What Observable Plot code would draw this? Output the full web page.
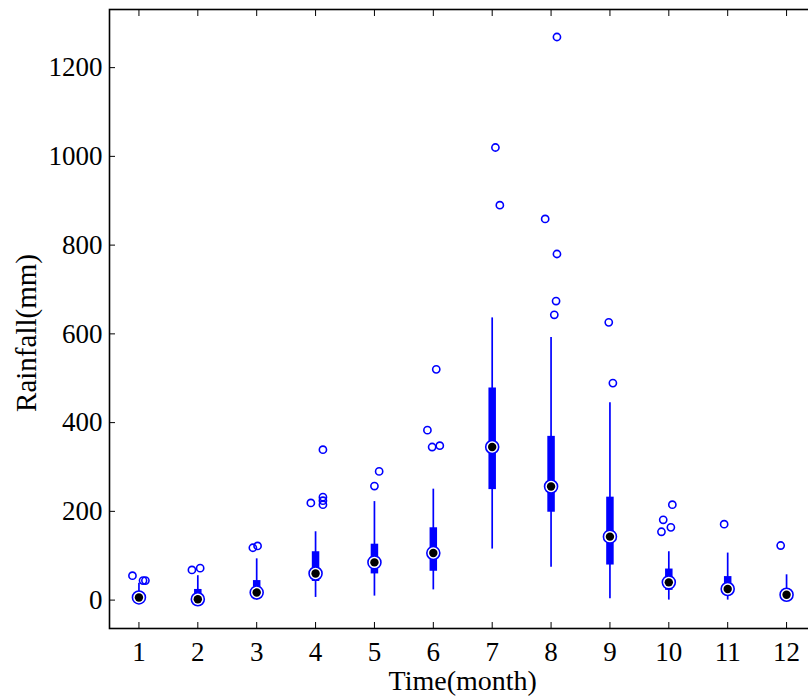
<!DOCTYPE html>
<html>
<head>
<meta charset="utf-8">
<script src="https://cdn.jsdelivr.net/npm/d3@7"></script>
<script src="https://cdn.jsdelivr.net/npm/@observablehq/plot@0.6"></script>
<style>
html, body { margin: 0; padding: 0; overflow: hidden; background: #fff; }
#chart svg { display: block; max-width: none !important; width: 816px !important; height: 699px !important; }
</style>
</head>
<body>
<div id="chart"></div>
<script>
// ---- data ----
const months       = [1, 2, 3, 4, 5, 6, 7, 8, 9, 10, 11, 12];
const whiskerLow   = [0, 0, 0, 6, 9, 23, 115, 74, 3, 0, 0, 0];
const quartile1    = [2, 0, 8, 42, 59, 65, 249, 198, 79, 22, 12, 5];
const medianValue  = [6, 2, 17, 60, 85, 106, 345, 256, 143, 40, 25, 12];
const quartile3    = [12, 24, 44, 109, 126, 163, 478, 369, 232, 70, 53, 20];
const whiskerHigh  = [38, 55, 93, 154, 222, 250, 636, 592, 445, 109, 106, 57];

const outlierMonth  = [1, 1, 1, 2, 2, 3, 3, 4, 4, 4, 4, 4, 5, 5, 6, 6, 6, 6, 7, 7, 8, 8, 8, 8, 8, 9, 9, 10, 10, 10, 10, 11, 12];
const outlierValue  = [55, 44, 44, 68, 72, 118, 122, 219, 339, 232, 224, 215, 257, 290, 520, 383, 345, 348, 1020, 890, 1269, 859, 780, 674, 643, 626, 489, 215, 181, 164, 154, 171, 123];
const outlierJitter = [-0.11, 0.07, 0.11, -0.10, 0.04, -0.065, 0.015, -0.08, 0.125, 0.125, 0.125, 0.125, 0.0, 0.08, 0.05, -0.10, -0.02, 0.11, 0.055, 0.13, 0.10, -0.10, 0.10, 0.085, 0.055, -0.02, 0.05, 0.06, -0.095, 0.035, -0.125, -0.06, -0.10];

const yTicks = [0, 200, 400, 600, 800, 1000, 1200];
const xTitle = "Time(month)";
const yTitle = "Rainfall(mm)";

// ---- tables built from the arrays ----
const boxes = months.map((m, i) => ({
  month: m, lo: whiskerLow[i], q1: quartile1[i], med: medianValue[i], q3: quartile3[i], hi: whiskerHigh[i]
}));
const outliers = outlierMonth.map((m, i) => ({ month: m, value: outlierValue[i], jitter: outlierJitter[i] }));

const BLUE = "#0000ff";
const FONT = "'Liberation Serif', 'Times New Roman', serif";

const chart = Plot.plot({
  width: 816,
  height: 699,
  marginLeft: 109,
  marginRight: 0.5,
  marginTop: 9,
  marginBottom: 71,
  style: { fontFamily: FONT, fontSize: "27px", color: "#000", background: "#fff" },
  x: { domain: [0.5, 12.5] },
  y: { domain: [-64, 1331] },
  marks: [
    // whiskers
    Plot.ruleX(boxes, { x: "month", y1: "lo", y2: "hi", stroke: BLUE, strokeWidth: 1.7 }),
    // boxes (compact style)
    Plot.ruleX(boxes, { x: "month", y1: "q1", y2: "q3", stroke: BLUE, strokeWidth: 7.5 }),
    // median ring + dot
    Plot.dot(boxes, { x: "month", y: "med", r: 6.5, fill: "white", stroke: BLUE, strokeWidth: 1.6 }),
    Plot.dot(boxes, { x: "month", y: "med", r: 4.2, fill: "black", stroke: "none" }),
    // outliers
    Plot.dot(outliers, { x: d => d.month + d.jitter, y: "value", r: 3.6, fill: "none", stroke: BLUE, strokeWidth: 1.6 }),
    // frame
    Plot.frame({ stroke: "black", strokeWidth: 1.6 }),
    // inward ticks
    Plot.axisX(months, { anchor: "bottom", tickSize: 6, dy: -6, tickFormat: () => "", label: null, stroke: "black" }),
    Plot.axisX(months, { anchor: "top", tickSize: 6, dy: 6, tickFormat: () => "", label: null, stroke: "black" }),
    Plot.axisY(yTicks, { anchor: "left", tickSize: 6, dx: 6, tickFormat: () => "", label: null, stroke: "black" }),
    // tick labels
    Plot.axisX(months, { anchor: "bottom", tickSize: 0, tickPadding: 13, fontSize: 27, label: null, fill: "black", tickFormat: d3.format("d") }),
    Plot.axisY(yTicks, { anchor: "left", tickSize: 0, tickPadding: 7, fontSize: 27, label: null, fill: "black", tickFormat: d3.format("d") }),
    // axis titles
    Plot.text([xTitle], { frameAnchor: "bottom", dy: 53, fontSize: 28, fill: "black", lineAnchor: "middle", textAnchor: "middle" }),
    Plot.text([yTitle], { frameAnchor: "left", dx: -83, dy: 14, rotate: -90, fontSize: 29, fill: "black", lineAnchor: "middle", textAnchor: "middle" })
  ]
});
document.getElementById("chart").appendChild(chart);
</script>
</body>
</html>
